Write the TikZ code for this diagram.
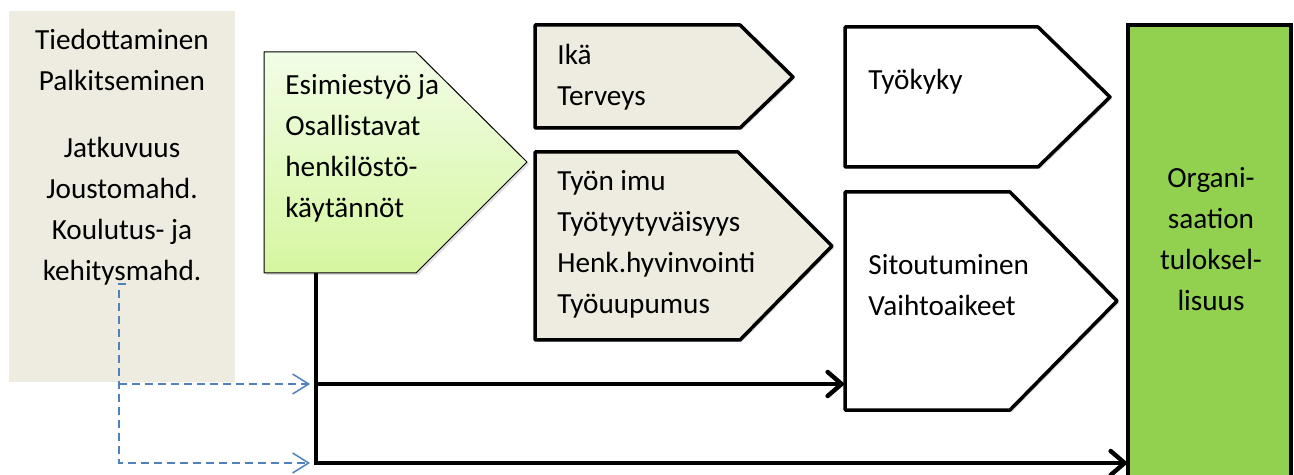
\documentclass[tikz,border=0pt]{standalone}
\usepackage{fontspec}
\setmainfont{Carlito}
\usetikzlibrary{arrows.meta,shadows}
\definecolor{tanbg}{RGB}{238,236,225}
\definecolor{orggreen}{RGB}{146,208,80}
\definecolor{palegreen}{RGB}{241,253,230}
\definecolor{limegreen}{RGB}{214,246,160}
\definecolor{linkblue}{RGB}{79,129,189}

\begin{document}
\begin{tikzpicture}[x=0.5pt,y=-0.5pt,
  lbl/.style={inner sep=0pt,font=\fontsize{14.6}{20.5}\selectfont,align=left,anchor=base west},
  tag/.style={line width=1.75pt,line join=round,fill=tanbg,drop shadow={opacity=0.25,shadow xshift=1pt,shadow yshift=-1pt}},
  flow/.style={line width=2.2pt,-{Straight Barb[length=7pt,width=12pt,line cap=round]}},
  hint/.style={linkblue,line width=0.75pt,dash pattern=on 4pt off 2.5pt,-{Straight Barb[length=8pt,width=10pt]}}]
\useasboundingbox (0,0) rectangle (1294,475);

% left box (nodes sit on their last baseline)
\fill[tanbg] (9,11) rectangle (235,382);
\node[lbl,align=center,anchor=base] (tied) at (122,91) {Tiedottaminen\\Palkitseminen};
\node[lbl,align=center,anchor=base] (jatk) at (122,281) {Jatkuvuus\\Joustomahd.\\Koulutus- ja\\kehitysmahd.};

% green arrow
\draw[line width=0.5pt,line join=round,top color=palegreen,bottom color=limegreen,drop shadow={opacity=0.25,shadow xshift=1pt,shadow yshift=-1pt}] (264,52) -- (416,52) -- (527,162) -- (416,273) -- (264,273) -- cycle;
\node[lbl] (esim) at (285,218) {Esimiestyö ja\\Osallistavat\\henkilöstö-\\käytännöt};

% middle
\draw[tag] (535,25) -- (740,25) -- (793,77) -- (740,128) -- (535,128) -- cycle;
\node[lbl] (ika) at (557,106) {Ikä\\Terveys};
\draw[tag] (535,152) -- (738,152) -- (832,246) -- (740,340) -- (535,340) -- cycle;
\node[lbl] (imu) at (557,314) {Työn imu\\Työtyytyväisyys\\Henk.hyvinvointi\\Työuupumus};

% right
\draw[tag,fill=white] (845,27) -- (1038,27) -- (1110,97) -- (1038,167) -- (845,167) -- cycle;
\node[lbl] (kyky) at (868,90) {Työkyky};
\draw[tag,fill=white] (845,192) -- (1010,192) -- (1117,301) -- (1010,410) -- (845,410) -- cycle;
\node[lbl] (sit) at (868,315) {Sitoutuminen\\Vaihtoaikeet};

% result
\draw[line width=1.75pt,fill=orggreen] (1128,25) rectangle (1291,490);
\node[lbl,align=center,anchor=base] (org) at (1211,311) {Organi-\\saation\\tuloksel-\\lisuus};

% connectors
\coordinate (esimfoot) at (316,273);
\coordinate (split) at (316,384);
\coordinate (corner) at (316,463);
\coordinate (sitin) at (845,384);
\coordinate (orgin) at (1128,463);
\coordinate (hintstart) at (126,284);
\coordinate (hintbend) at (119,384);
\draw[flow] (esimfoot) |- (orgin);
\draw[flow] (split) -- (sitin);
\draw[hint] (hintstart) -- ++(-7,0) |- ([xshift=-3pt]corner);
\draw[hint] (hintbend) -- ([xshift=-3pt]split);
\end{tikzpicture}
\end{document}
